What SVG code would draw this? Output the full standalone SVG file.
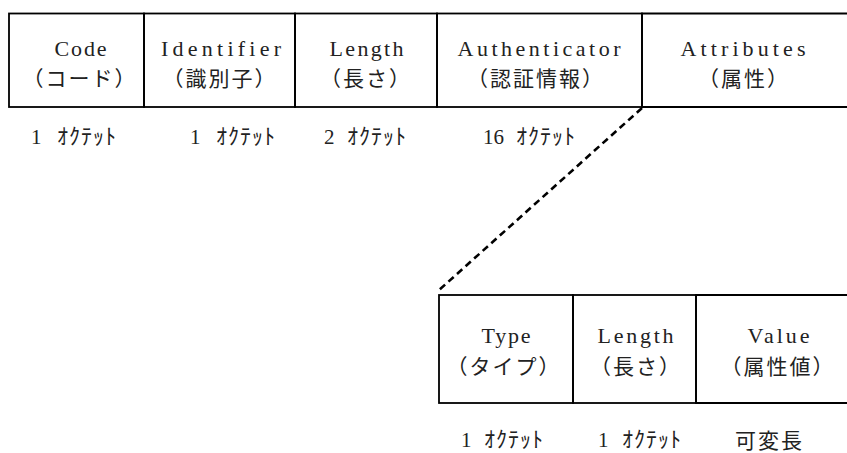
<svg xmlns="http://www.w3.org/2000/svg" width="847" height="453" viewBox="0 0 847 453">
<style>
.cell{fill:none;stroke:#000;stroke-width:1.8}
.lat{font-family:"Liberation Serif","Noto Sans CJK JP",serif;font-size:22px;fill:#222;text-anchor:middle}
.cjk{font-family:"Noto Sans CJK JP",sans-serif;font-size:21px;fill:#222;text-anchor:middle;letter-spacing:2px}
.oct{font-family:"Liberation Serif","Noto Sans CJK JP",serif;font-size:21px;fill:#222}
.k{font-family:"Noto Sans CJK JP",sans-serif;font-size:22px;letter-spacing:1px}
.var{font-family:"Noto Sans CJK JP",sans-serif;font-size:21px;fill:#222;letter-spacing:2px}
.dash{fill:none;stroke:#000;stroke-width:2.6;stroke-dasharray:7 4.5}
</style>
<rect width="847" height="453" fill="#fff"/>
<g id="code">
<rect class="cell" x="9" y="13.5" width="135" height="93.5"/>
<text class="lat" x="80.5" y="56" textLength="52" lengthAdjust="spacing">Code</text>
<text class="cjk" x="80" y="86">（コード）</text>
</g>
<g id="identifier">
<rect class="cell" x="144" y="13.5" width="151" height="93.5"/>
<text class="lat" x="221" y="56" textLength="120" lengthAdjust="spacing">Identifier</text>
<text class="cjk" x="220" y="86">（識別子）</text>
</g>
<g id="length">
<rect class="cell" x="295" y="13.5" width="142" height="93.5"/>
<text class="lat" x="366.5" y="56" textLength="74" lengthAdjust="spacing">Length</text>
<text class="cjk" x="366" y="86">（長さ）</text>
</g>
<g id="authenticator">
<rect class="cell" x="437" y="13.5" width="205" height="93.5"/>
<text class="lat" x="539" y="56" textLength="163" lengthAdjust="spacing">Authenticator</text>
<text class="cjk" x="536" y="86">（認証情報）</text>
</g>
<g id="attributes">
<path class="cell" d="M847,13.5 H642 V107 H847"/>
<text class="lat" x="743" y="56" textLength="125" lengthAdjust="spacing">Attributes</text>
<text class="cjk" x="744" y="86">（属性）</text>
</g>
<g id="octets-top">
<text class="oct" x="31" y="144">1 <tspan class="k" x="57">ｵｸﾃｯﾄ</tspan></text>
<text class="oct" x="190" y="144">1 <tspan class="k" x="216">ｵｸﾃｯﾄ</tspan></text>
<text class="oct" x="324" y="144">2 <tspan class="k" x="347">ｵｸﾃｯﾄ</tspan></text>
<text class="oct" x="483" y="144">16 <tspan class="k" x="516">ｵｸﾃｯﾄ</tspan></text>
</g>
<g id="connectors">
<path class="dash" d="M642,108 L438,291"/>
</g>
<g id="type">
<rect class="cell" x="439" y="295" width="134" height="108"/>
<text class="lat" x="506" y="343" textLength="49" lengthAdjust="spacing">Type</text>
<text class="cjk" x="504" y="374">（タイプ）</text>
</g>
<g id="attr-length">
<rect class="cell" x="573" y="295" width="123" height="108"/>
<text class="lat" x="635.5" y="343" textLength="76" lengthAdjust="spacing">Length</text>
<text class="cjk" x="636" y="374">（長さ）</text>
</g>
<g id="value">
<path class="cell" d="M847,295 H696 V403 H847"/>
<text class="lat" x="778.5" y="343" textLength="62" lengthAdjust="spacing">Value</text>
<text class="cjk" x="778" y="374">（属性値）</text>
</g>
<g id="octets-bottom">
<text class="oct" x="461" y="447">1 <tspan class="k" x="484">ｵｸﾃｯﾄ</tspan></text>
<text class="oct" x="598" y="447">1 <tspan class="k" x="622">ｵｸﾃｯﾄ</tspan></text>
<text class="var" x="735" y="448">可変長</text>
</g>
</svg>
